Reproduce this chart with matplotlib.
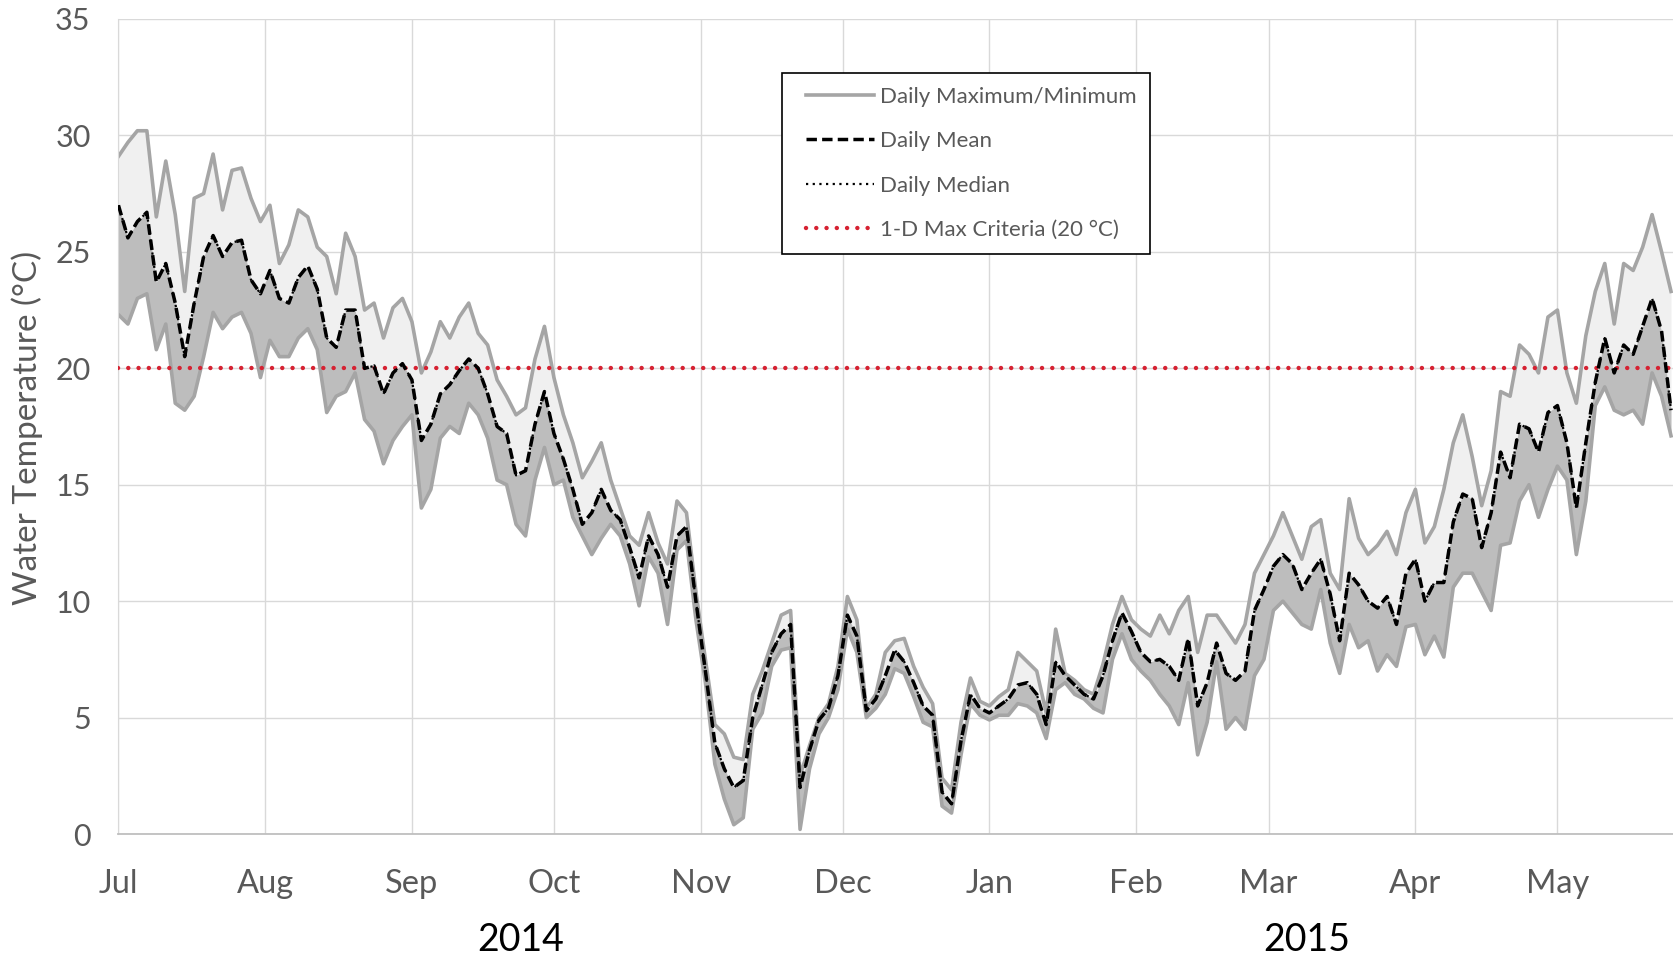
import numpy as np
import pandas as pd
import matplotlib
matplotlib.use("Agg")
import matplotlib.pyplot as plt
from matplotlib.lines import Line2D
from matplotlib.legend_handler import HandlerLine2D

plt.rcParams['font.family'] = ['Lato', 'DejaVu Sans']

# daily values read every 2nd day, 1 Jul 2014 - 25 May 2015
dates = pd.date_range("2014-07-01", "2015-05-25", freq="2D")

daily_max = [
    29.1, 29.7, 30.2, 30.2, 26.5, 28.9, 26.6, 23.3, 27.3, 27.5,
    29.2, 26.8, 28.5, 28.6, 27.3, 26.3, 27.0, 24.5, 25.3, 26.8,
    26.5, 25.2, 24.8, 23.2, 25.8, 24.8, 22.5, 22.8, 21.3, 22.6,
    23.0, 22.0, 19.8, 20.7, 22.0, 21.3, 22.2, 22.8, 21.5, 21.0,
    19.5, 18.8, 18.0, 18.3, 20.4, 21.8, 19.6, 18.0, 16.8, 15.3,
    16.0, 16.8, 15.2, 14.0, 12.8, 12.4, 13.8, 12.5, 11.6, 14.3,
    13.8, 10.4, 7.5, 4.7, 4.3, 3.3, 3.2, 6.0, 7.0, 8.2,
    9.4, 9.6, 2.5, 3.8, 5.0, 5.6, 7.2, 10.2, 9.2, 5.4,
    6.0, 7.8, 8.3, 8.4, 7.2, 6.3, 5.6, 2.4, 1.9, 4.8,
    6.7, 5.7, 5.5, 5.9, 6.2, 7.8, 7.4, 7.0, 5.2, 8.8,
    6.9, 6.6, 6.2, 6.0, 7.3, 9.0, 10.2, 9.2, 8.8, 8.5,
    9.4, 8.6, 9.6, 10.2, 7.8, 9.4, 9.4, 8.8, 8.2, 9.0,
    11.2, 12.0, 12.8, 13.8, 12.8, 11.8, 13.2, 13.5, 11.2, 10.5,
    14.4, 12.7, 12.0, 12.4, 13.0, 12.0, 13.8, 14.8, 12.5, 13.2,
    14.8, 16.8, 18.0, 16.2, 14.1, 15.6, 19.0, 18.8, 21.0, 20.6,
    19.8, 22.2, 22.5, 19.8, 18.5, 21.4, 23.3, 24.5, 21.9, 24.5,
    24.2, 25.2, 26.6, 25.0, 23.3,
]

daily_mean = [
    27.0, 25.6, 26.3, 26.7, 23.7, 24.5, 22.8, 20.5, 22.8, 24.8,
    25.7, 24.8, 25.4, 25.5, 23.8, 23.2, 24.2, 23.0, 22.8, 23.9,
    24.4, 23.4, 21.3, 20.9, 22.5, 22.5, 20.0, 20.1, 18.9, 19.8,
    20.2, 19.5, 16.9, 17.6, 18.9, 19.3, 19.9, 20.4, 20.0, 18.9,
    17.5, 17.2, 15.4, 15.6, 17.6, 19.0, 17.2, 16.1, 14.8, 13.3,
    13.8, 14.8, 13.9, 13.5, 12.3, 11.0, 12.8, 12.0, 10.6, 12.8,
    13.2, 10.0, 7.0, 3.9, 2.8, 2.0, 2.3, 5.0, 6.4, 7.8,
    8.6, 9.0, 2.0, 3.6, 4.9, 5.4, 6.8, 9.4, 8.5, 5.3,
    5.8, 6.8, 7.9, 7.4, 6.5, 5.5, 5.1, 1.8, 1.3, 4.0,
    6.0, 5.4, 5.2, 5.5, 5.8, 6.4, 6.5, 6.0, 4.7, 7.4,
    6.8, 6.4, 6.0, 5.8, 6.8, 8.3, 9.5, 8.7, 7.8, 7.4,
    7.5, 7.2, 6.6, 8.4, 5.5, 6.5, 8.2, 6.9, 6.6, 7.0,
    9.6, 10.5, 11.5, 12.0, 11.6, 10.5, 11.2, 11.8, 10.3, 8.3,
    11.2, 10.7, 10.0, 9.7, 10.2, 9.0, 11.2, 11.8, 10.0, 10.8,
    10.8, 13.4, 14.6, 14.4, 12.3, 13.8, 16.4, 15.3, 17.6, 17.4,
    16.4, 18.1, 18.4, 16.8, 14.0, 16.8, 19.4, 21.3, 19.8, 21.0,
    20.6, 21.8, 23.0, 21.6, 18.2,
]

daily_min = [
    22.3, 21.9, 23.0, 23.2, 20.8, 21.9, 18.5, 18.2, 18.8, 20.5,
    22.4, 21.7, 22.2, 22.4, 21.5, 19.6, 21.2, 20.5, 20.5, 21.3,
    21.7, 20.8, 18.1, 18.8, 19.0, 19.8, 17.8, 17.3, 15.9, 16.9,
    17.5, 18.0, 14.0, 14.8, 17.0, 17.5, 17.2, 18.5, 18.0, 17.0,
    15.2, 15.0, 13.3, 12.8, 15.2, 16.6, 15.0, 15.2, 13.6, 12.8,
    12.0, 12.7, 13.3, 12.8, 11.6, 9.8, 11.9, 11.2, 9.0, 12.2,
    12.6, 9.2, 6.5, 3.0, 1.5, 0.4, 0.7, 4.5, 5.2, 7.2,
    7.9, 8.0, 0.2, 2.8, 4.3, 5.0, 6.2, 8.8, 7.8, 5.0,
    5.4, 6.0, 7.1, 6.9, 5.9, 4.8, 4.6, 1.2, 0.9, 3.4,
    5.6, 5.1, 4.9, 5.1, 5.1, 5.6, 5.5, 5.2, 4.1, 6.2,
    6.5, 6.0, 5.8, 5.4, 5.2, 7.5, 8.6, 7.5, 7.0, 6.6,
    6.0, 5.5, 4.7, 6.5, 3.4, 4.8, 7.4, 4.5, 5.0, 4.5,
    6.8, 7.5, 9.6, 10.0, 9.5, 9.0, 8.8, 10.5, 8.2, 6.9,
    9.0, 8.0, 8.3, 7.0, 7.7, 7.2, 8.9, 9.0, 7.7, 8.5,
    7.6, 10.6, 11.2, 11.2, 10.4, 9.6, 12.4, 12.5, 14.3, 15.0,
    13.6, 14.8, 15.8, 15.2, 12.0, 14.3, 18.4, 19.2, 18.2, 18.0,
    18.2, 17.6, 19.8, 18.8, 17.1,
]

# median sits right on top of the mean at this scale
daily_median = list(daily_mean)

criteria = 20
month_labels = ["Jul", "Aug", "Sep", "Oct", "Nov", "Dec", "Jan", "Feb", "Mar", "Apr", "May"]
year_labels = ["2014", "2015"]
year_pos = [pd.Timestamp("2014-09-24"), pd.Timestamp("2015-03-09")]

grey_txt = '#595959'

fig = plt.figure(figsize=(16.73, 9.58), dpi=100)
ax = fig.add_axes([0.0708, 0.1294, 0.9292, 0.8508])

ax.fill_between(dates, daily_mean, daily_max, color='#f0f0f0', lw=0, zorder=1)
ax.fill_between(dates, daily_min, daily_mean, color='#bdbdbd', lw=0, zorder=1)

ax.plot(dates, daily_max, color='#a5a5a5', lw=2.6, zorder=2, label='Daily Maximum/Minimum')
ax.plot(dates, daily_min, color='#a5a5a5', lw=2.6, zorder=2)
ax.axhline(criteria, color='#d62232', lw=3.2, linestyle=(0, (0.01, 2.3)),
           dash_capstyle='round', zorder=3, label='1-D Max Criteria (20 °C)')
ax.plot(dates, daily_mean, color='black', lw=2.5, linestyle=(0, (3, 1.5)),
        zorder=4, label='Daily Mean')
ax.plot(dates, daily_median, color='black', lw=1.6, linestyle=(0, (1, 2)),
        zorder=5, label='Daily Median')

ax.set_ylim(0, 35)
ax.set_yticks(range(0, 36, 5))
ax.set_xlim(pd.Timestamp("2014-07-01"), pd.Timestamp("2015-05-25 10:00"))
month_starts = pd.date_range("2014-07-01", "2015-05-01", freq="MS")
ax.set_xticks(month_starts)
ax.set_xticklabels(month_labels)

ax.grid(True, color='#d9d9d9', lw=1.0)
ax.set_axisbelow(True)
for s in ['top', 'right']:
    ax.spines[s].set_visible(False)
ax.spines['left'].set_color('#d9d9d9')
ax.spines['bottom'].set_color('#bfbfbf')
ax.spines['bottom'].set_linewidth(1.3)

ax.tick_params(axis='y', length=0, labelsize=22, colors=grey_txt, pad=20)
ax.tick_params(axis='x', length=0, labelsize=23.5, colors=grey_txt, pad=25)

for lab, pos in zip(year_labels, year_pos):
    ax.text(pos, -0.130, lab, transform=ax.get_xaxis_transform(),
            ha='center', va='center', fontsize=27, color='black')

fig.text(27 / 1673, 1 - 428 / 958, 'Water Temperature (°C)', rotation=90,
         ha='center', va='center', fontsize=24, color=grey_txt)

h, l = ax.get_legend_handles_labels()
order = [l.index('Daily Maximum/Minimum'), l.index('Daily Mean'),
         l.index('Daily Median'), l.index('1-D Max Criteria (20 °C)')]
leg = ax.legend([h[i] for i in order], [l[i] for i in order],
                loc='upper left', bbox_to_anchor=(782 / 1673, 1 - 73 / 958),
                bbox_transform=fig.transFigure, borderaxespad=0,
                fontsize=16, handlelength=3.54, handletextpad=0.25,
                labelspacing=1.1, borderpad=0.62, fancybox=False,
                framealpha=1, edgecolor='black',
                handler_map={Line2D: HandlerLine2D(xpad=0.44)})
leg.get_frame().set_linewidth(1.2)
for t in leg.get_texts():
    t.set_color(grey_txt)

fig.savefig('out.png', dpi=100)
